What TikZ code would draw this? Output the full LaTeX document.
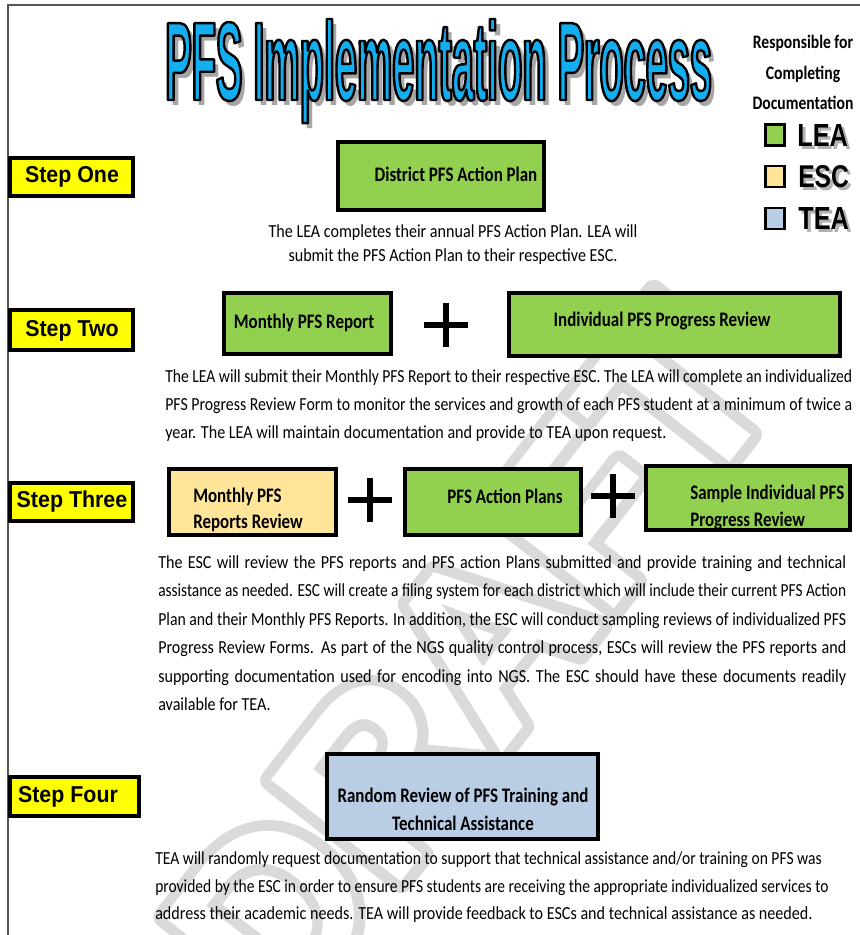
\documentclass[tikz,border=0pt]{standalone}
\usepackage{fontspec}
\usepackage{graphicx}
\usetikzlibrary{calc}
\setmainfont{Carlito}
\newfontfamily\calfont[FakeStretch=0.82]{Carlito}
\newfontfamily\bodyfam[FakeStretch=0.875]{Carlito}
\newfontfamily\arialfont[FakeStretch=0.93]{Liberation Sans}
\newfontfamily\heavyfont{Liberation Sans}
\newfontfamily\titlefam[FakeStretch=0.355]{Liberation Sans}
\newfontfamily\wmfam{Liberation Sans}
\definecolor{leagreen}{HTML}{92D050}
\definecolor{esctan}{HTML}{FFE59A}
\definecolor{teablue}{HTML}{B9CDE5}
\definecolor{stepyellow}{HTML}{FFFF00}
\definecolor{titleblue}{HTML}{12AEEF}
\definecolor{wmgray}{HTML}{DADADA}
\definecolor{framecol}{HTML}{555555}
\newlength\jw
\newcommand\jline[2]{\settowidth\jw{#2}\ifdim\jw>#1\relax\resizebox{#1}{\height}{#2}\else\makebox[#1][s]{#2}\fi}
\newcommand\fitline[2]{\resizebox{#1}{\height}{#2}}
\newcommand\outlined[1]{\special{pdf:literal direct 0 0 0 RG 1.8 w 1 j 2 Tr}#1\special{pdf:literal direct 0 Tr}}
\newcommand\wmring[1]{\special{pdf:literal direct 0.855 0.855 0.855 RG 16.5 w 1 j 2 Tr}#1\special{pdf:literal direct 0 Tr}}
\newcommand\legtext[1]{\resizebox{38pt}{16.5pt}{\heavyfont\bfseries #1}}
\tikzset{
  stepbox/.style={draw=black, line width=3pt, fill=stepyellow, inner sep=0pt},
  steptext/.style={inner sep=0pt, font=\arialfont\bfseries\fontsize{17.25}{20}\selectfont},
  leabox/.style={draw=black, line width=3pt, fill=leagreen, inner sep=0pt},
  escbox/.style={draw=black, line width=3pt, fill=esctan, inner sep=0pt},
  teabox/.style={draw=black, line width=3pt, fill=teablue, inner sep=0pt},
  boxtext/.style={inner sep=0pt, font=\calfont\bfseries\fontsize{15.5}{19.5}\selectfont},
  body/.style={inner sep=0pt, anchor=base west, font=\bodyfam\fontsize{13.8}{16}\selectfont},
  bodyc/.style={inner sep=0pt, anchor=base, font=\bodyfam\fontsize{13.8}{16}\selectfont},
  plusline/.style={line width=4.5pt, black},
  legsq/.style={draw=black, line width=2.2pt, inner sep=0pt, minimum width=19*.75pt, minimum height=21*.75pt},
  leghead/.style={inner sep=0pt, anchor=base, font=\calfont\bfseries\fontsize{14.3}{15}\selectfont},
  ttl/.style={inner sep=0pt, anchor=base west},
  titlefont/.style={font=\titlefam\bfseries\fontsize{83.8}{90}\selectfont},
  wm/.style={rotate=52, inner sep=0pt, font=\wmfam\bfseries\fontsize{180}{180}\selectfont}
}
\begin{document}
\begin{tikzpicture}[x=0.75pt,y=-0.75pt]
\useasboundingbox[fill=white] (0,0) rectangle (860,935);

% watermark (hollow letters with a grey outline)
\node[wm, text=wmgray] (wmout) at (470,660) {\wmring{DRAFT}};
\node[wm, text=white] (wm) at (470,660) {DRAFT};

% frame
\draw[framecol, line width=1.1pt] (8,935) -- (8,5) -- (860,5);

% title
\node[ttl, titlefont, text=gray!70] (ttlsh) at (170,105) {PFS Implementation Process};
\node[ttl, titlefont, text=titleblue] (title) at (165,100) {\outlined{PFS Implementation Process}};

% legend
\node[leghead] (lh1) at (803,48) {Responsible for};
\node[leghead] (lh2) at (803,79) {Completing};
\node[leghead] (lh3) at (803,109) {Documentation};
\node[legsq, fill=leagreen] (sqlea) at (775,135) {};
\node[legsq, fill=esctan] (sqesc) at (775,176.5) {};
\node[legsq, fill=teablue] (sqtea) at (775,218.5) {};
\node[ttl, text=gray!60] (lealsh) at (800,149) {\legtext{LEA}};
\node[ttl] (leal) at (797,146) {\legtext{LEA}};
\node[ttl, text=gray!60] (escl-sh) at (801,190) {\legtext{ESC}};
\node[ttl] (escl) at (798,187) {\legtext{ESC}};
\node[ttl, text=gray!60] (teal-sh) at (801,232) {\legtext{TEA}};
\node[ttl] (teal) at (798,229) {\legtext{TEA}};

% step labels
\node[stepbox, minimum width=123*.75pt, minimum height=38*.75pt] (s1) at (71.5,177) {};
\node[steptext] (s1t) at (72,177) {Step One};
\node[stepbox, minimum width=123*.75pt, minimum height=40*.75pt] (s2) at (71.5,330) {};
\node[steptext] (s2t) at (72,331) {Step Two};
\node[stepbox, minimum width=123*.75pt, minimum height=38*.75pt] (s3) at (71.5,502) {};
\node[steptext] (s3t) at (72,502) {Step Three};
\node[stepbox, minimum width=129*.75pt, minimum height=39*.75pt] (s4) at (74.5,796.5) {};
\node[steptext] (s4t) at (68,797) {Step Four};

% step one
\node[leabox, minimum width=206*.75pt, minimum height=68*.75pt] (dpl) at (441,176) {};
\node[boxtext] (dplt) at (456,174) {District PFS Action Plan};
\node[bodyc] (t1a) at (453,237) {The LEA completes their annual PFS Action Plan. LEA will};
\node[bodyc] (t1b) at (453,261) {submit the PFS Action Plan to their respective ESC.};

% step two
\node[leabox, minimum width=167*.75pt, minimum height=61*.75pt] (mpr) at (307.5,323.5) {};
\node[boxtext] (mprt) at (304,323) {Monthly PFS Report};
\coordinate (p1) at (446,325);
\draw[plusline] ($(p1)+(-22,0)$) -- ($(p1)+(22,0)$) ($(p1)+(0,-22)$) -- ($(p1)+(0,22)$);
\node[leabox, minimum width=331*.75pt, minimum height=63*.75pt] (ipr) at (674.5,324.5) {};
\node[boxtext] (iprt) at (662,321) {Individual PFS Progress Review};
\node[body] (t2a) at (165,382) {\jline{515.25pt}{The LEA will submit their Monthly PFS Report to their respective ESC. The LEA will complete an individualized}};
\node[body] (t2b) at (165,410) {\jline{515.25pt}{PFS Progress Review Form to monitor the services and growth of each PFS student at a minimum of twice a}};
\node[body] (t2c) at (165,438) {year. The LEA will maintain documentation and provide to TEA upon request.};

% step three
\node[escbox, minimum width=167*.75pt, minimum height=66*.75pt] (mprr) at (252.5,502) {};
\node[boxtext, anchor=base west] (mprrt1) at (193,502) {Monthly PFS};
\node[boxtext, anchor=base west] (mprrt2) at (193,528) {Reports Review};
\coordinate (p2) at (370,500);
\draw[plusline] ($(p2)+(-22,0)$) -- ($(p2)+(22,0)$) ($(p2)+(0,-22)$) -- ($(p2)+(0,22)$);
\node[leabox, minimum width=176*.75pt, minimum height=66*.75pt] (pap) at (493,502) {};
\node[boxtext] (papt) at (505,496) {PFS Action Plans};
\coordinate (p3) at (613,496);
\draw[plusline] ($(p3)+(-22,0)$) -- ($(p3)+(22,0)$) ($(p3)+(0,-22)$) -- ($(p3)+(0,22)$);
\node[leabox, minimum width=204*.75pt, minimum height=64*.75pt] (sip) at (748,498) {};
\node[boxtext, anchor=base west] (sipt1) at (690,499) {Sample Individual PFS};
\node[boxtext, anchor=base west] (sipt2) at (690,526) {Progress Review};
\node[body] (t3a) at (158,568) {\jline{516pt}{The ESC will review the PFS reports and PFS action Plans submitted and provide training and technical}};
\node[body] (t3b) at (158,596) {\jline{516pt}{assistance as needed. ESC will create a filing system for each district which will include their current PFS Action}};
\node[body] (t3c) at (158,625) {\jline{516pt}{Plan and their Monthly PFS Reports. In addition, the ESC will conduct sampling reviews of individualized PFS}};
\node[body] (t3d) at (158,653) {\jline{516pt}{Progress Review Forms. As part of the NGS quality control process, ESCs will review the PFS reports and}};
\node[body] (t3e) at (158,682) {\jline{516pt}{supporting documentation used for encoding into NGS. The ESC should have these documents readily}};
\node[body] (t3f) at (158,710) {available for TEA.};

% step four
\node[teabox, minimum width=271*.75pt, minimum height=85*.75pt] (rr) at (462.5,796.5) {};
\node[boxtext] (rrt1) at (463,797) {Random Review of PFS Training and};
\node[boxtext] (rrt2) at (463,823) {Technical Assistance};
\node[body] (t4a) at (155,864) {\fitline{500pt}{TEA will randomly request documentation to support that technical assistance and/or training on PFS was}};
\node[body] (t4b) at (155,892) {\fitline{505pt}{provided by the ESC in order to ensure PFS students are receiving the appropriate individualized services to}};
\node[body] (t4c) at (155,919) {\fitline{493pt}{address their academic needs. TEA will provide feedback to ESCs and technical assistance as needed.}};
\end{tikzpicture}
\end{document}
